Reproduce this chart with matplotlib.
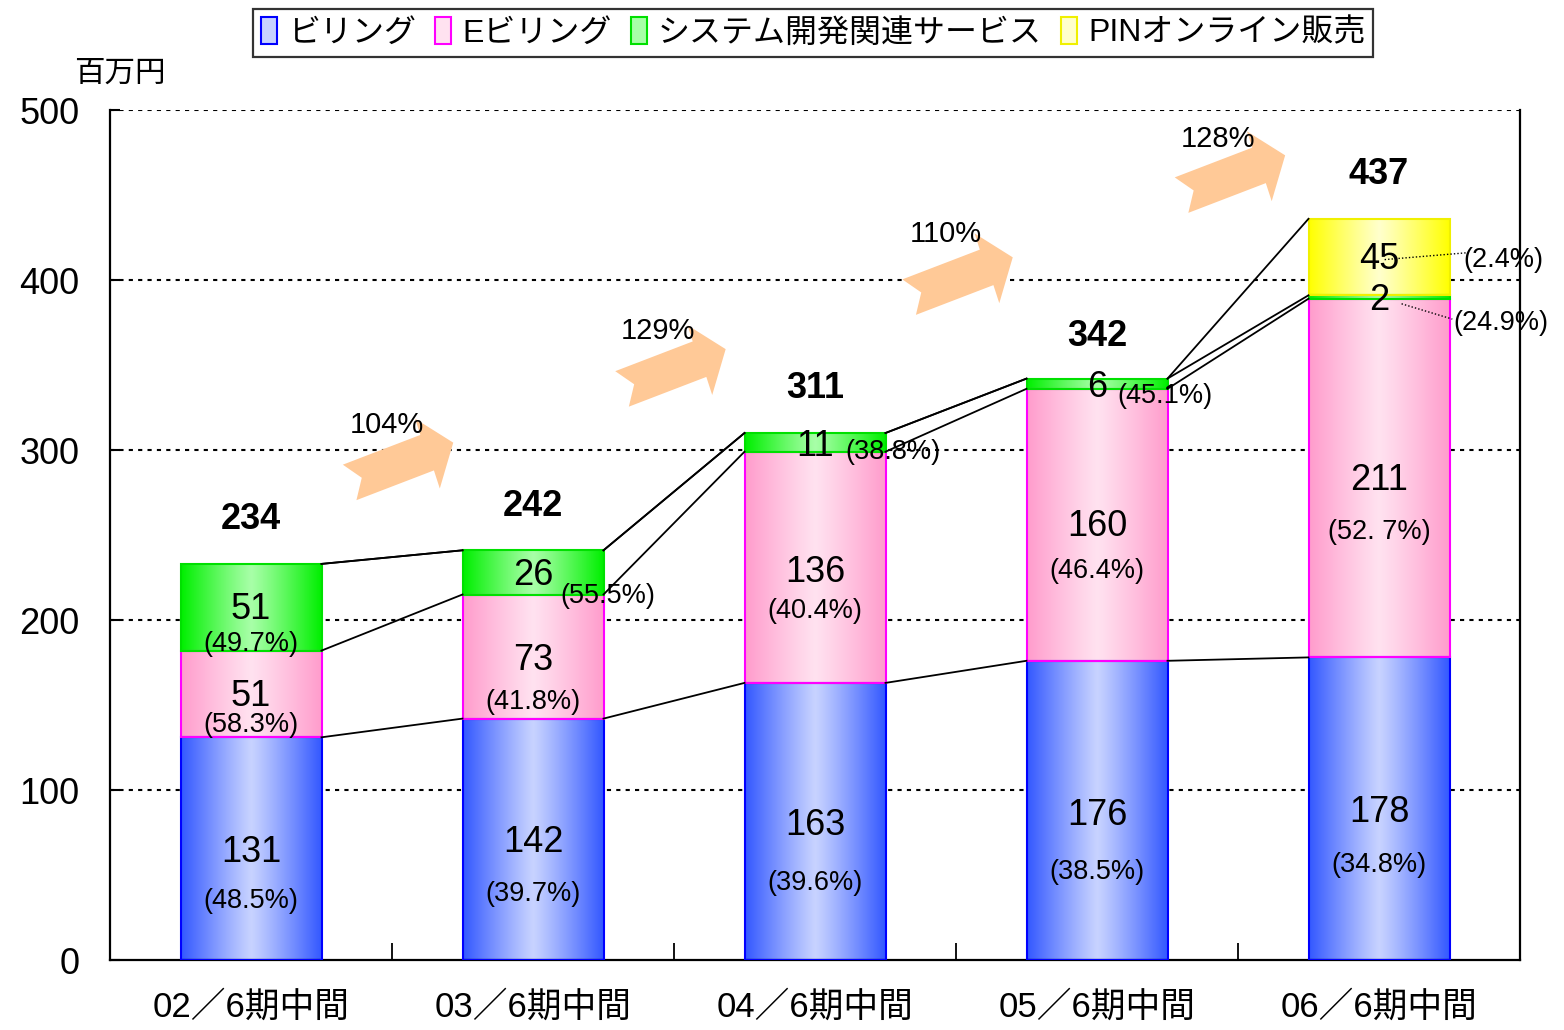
import numpy as np
import matplotlib
matplotlib.use("Agg")
import matplotlib.pyplot as plt
import matplotlib.transforms as mtransforms
from matplotlib.patches import Rectangle, Polygon, Patch
from matplotlib.colors import to_rgb

plt.rcParams["font.family"] = ["Liberation Sans", "Noto Sans CJK JP", "DejaVu Sans"]

# datos
categories = ["02／6期中間", "03／6期中間", "04／6期中間", "05／6期中間", "06／6期中間"]
series_names = ["ビリング", "Eビリング", "システム開発関連サービス", "PINオンライン販売"]
billing = [131, 142, 163, 176, 178]
e_billing = [51, 73, 136, 160, 211]
system_dev = [51, 26, 11, 6, 2]
pin_online = [0, 0, 0, 0, 45]
totals = [234, 242, 311, 342, 437]
billing_pct = ["(48.5%)", "(39.7%)", "(39.6%)", "(38.5%)", "(34.8%)"]
e_billing_pct = ["(58.3%)", "(41.8%)", "(40.4%)", "(46.4%)", "(52. 7%)"]
system_pct = ["(49.7%)", "(55.5%)", "(38.8%)", "(45.1%)", "(24.9%)"]
pin_pct = ["", "", "", "", "(2.4%)"]
growth = ["104%", "129%", "110%", "128%"]

# colores (borde, centro, linea)
styles = [
    ("#3358ff", "#c8d3ff", "#0000ff"),
    ("#ff9ccc", "#ffe2f0", "#ff00ff"),
    ("#00f000", "#a8ffa8", "#00e000"),
    ("#ffff00", "#ffffcc", "#f0f000"),
]

# posiciones de etiquetas (x desplazamiento, y)
val_pos = [
    [(0, 63), (0, 69), (0, 79), (0, 85), (0, 87)],
    [(0, 155), (0, 176), (0, 228), (0, 255), (0, 282)],
    [(0, 206), (0, 226), (0, 302), (0, 337), (0, 388)],
    [None, None, None, None, (0, 412)],
]
pct_pos = [
    [(0, 35), (0, 39), (0, 45), (0, 52), (0, 56)],
    [(0, 138), (0, 152), (0, 205), (0, 229), (0, 252)],
    [(0, 186), (0.096, 214, "left"), (0.106, 299, "left"), (0.071, 332, "left"), (0.262, 375, "left")],
    [None, None, None, None, (0.298, 412, "left")],
]
arrow_xy = [(0.555, 294), (1.521, 349), (2.539, 403), (3.505, 463)]
growth_xy = [(0.482, 315), (1.443, 370), (2.464, 427), (3.429, 483)]

fig = plt.figure(figsize=(15.64, 10.30), dpi=100)
ax = fig.add_axes([110 / 1564, 70 / 1030, 1410 / 1564, 850 / 1030])

series = [billing, e_billing, system_dev, pin_online]
x = np.arange(len(categories))
w = 0.5
bottoms = np.zeros(len(categories))
cum_levels = []

t = np.linspace(0, 1, 200)
prof = np.abs(t - 0.5) * 2
for s, vals in enumerate(series):
    edge, center, line = styles[s]
    e = np.array(to_rgb(edge))
    c = np.array(to_rgb(center))
    grad = c[None, :] + (e - c)[None, :] * prof[:, None] ** 1.1
    for i, v in enumerate(vals):
        if v <= 0:
            continue
        x0, x1 = x[i] - w / 2, x[i] + w / 2
        y0, y1 = bottoms[i], bottoms[i] + v
        ax.imshow(grad[None, :, :], extent=[x0, x1, y0, y1], aspect="auto",
                  interpolation="bilinear", zorder=2)
        ax.add_patch(Rectangle((x0, y0), w, v, fill=False, edgecolor=line, lw=1.5, zorder=3))
    bottoms = bottoms + np.array(vals)
    cum_levels.append(bottoms.copy())

# lineas de conexion
for lev in cum_levels:
    for i in range(len(categories) - 1):
        ax.plot([x[i] + w / 2, x[i + 1] - w / 2], [lev[i], lev[i + 1]],
                color="black", lw=1.3, zorder=4)

# etiquetas
val_lists = series
pct_lists = [billing_pct, e_billing_pct, system_pct, pin_pct]
for s in range(4):
    for i in range(len(categories)):
        vp = val_pos[s][i]
        if vp is not None:
            ax.text(x[i] + vp[0], vp[1], str(val_lists[s][i]), ha="center", va="center",
                    fontsize=26, zorder=6)
        pp = pct_pos[s][i]
        if pp is not None:
            ha = pp[2] if len(pp) > 2 else "center"
            ax.text(x[i] + pp[0], pp[1], pct_lists[s][i], ha=ha, va="center",
                    fontsize=19.5, zorder=6)

# lineas punteadas de 06
ax.plot([4.02, 4.31], [412, 416], color="black", lw=1, ls=(0, (1, 1.5)), zorder=6)
ax.plot([4.08, 4.26], [386, 377], color="black", lw=1, ls=(0, (1, 1.5)), zorder=6)

for i, tot in enumerate(totals):
    ax.text(x[i], tot + 25, str(tot), ha="center", va="center", fontsize=26,
            fontweight="bold", zorder=6)

# flechas de crecimiento
arrow_shape = np.array([(-62, 19), (21, 19), (22, 36), (49, 0), (20, -38),
                        (21, -19), (-62, -19), (-49, 0)])
for (ax_x, ax_y), (gx, gy), g in zip(arrow_xy, growth_xy, growth):
    tr = mtransforms.Affine2D().rotate_deg(21) + mtransforms.ScaledTranslation(ax_x, ax_y, ax.transData)
    ax.add_patch(Polygon(arrow_shape, closed=True, facecolor="#ffc997", edgecolor="none",
                         transform=tr, zorder=5))
    ax.text(gx, gy, g, ha="center", va="center", fontsize=21, zorder=7)

# ejes
ax.set_xlim(-0.5, 4.5)
ax.set_ylim(0, 500)
ax.set_yticks([0, 100, 200, 300, 400, 500])
ax.tick_params(axis="y", direction="in", length=7, labelsize=26, pad=22, width=1.5)
ax.set_xticks(x)
ax.set_xticklabels(categories, fontsize=25)
ax.set_xticks([0.5, 1.5, 2.5, 3.5], minor=True)
ax.tick_params(axis="x", which="major", length=0, pad=22)
ax.tick_params(axis="x", which="minor", direction="in", length=12, width=1.3)
for yv in [100, 200, 300, 400, 500]:
    ax.axhline(yv, color="black", lw=1.5, ls=(0, (2, 2.5)), zorder=1)
ax.spines["top"].set_visible(False)
for sp in ["left", "right", "bottom"]:
    ax.spines[sp].set_linewidth(1.6)

fig.text(120 / 1564, 1 - 74 / 1030, "百万円", ha="center", va="center", fontsize=22)

handles = [Patch(facecolor=st[1], edgecolor=st[2], lw=1.5) for st in styles]
leg = fig.legend(handles, series_names, loc="center", bbox_to_anchor=(813 / 1564, 1 - 33 / 1030),
                 ncol=4, fontsize=23, frameon=True, fancybox=False, handlelength=0.5,
                 handleheight=0.9, handletextpad=0.35, columnspacing=0.6, borderpad=0.25,
                 edgecolor="black")
leg.get_frame().set_linewidth(1.6)

plt.savefig("out.png", dpi=100)
